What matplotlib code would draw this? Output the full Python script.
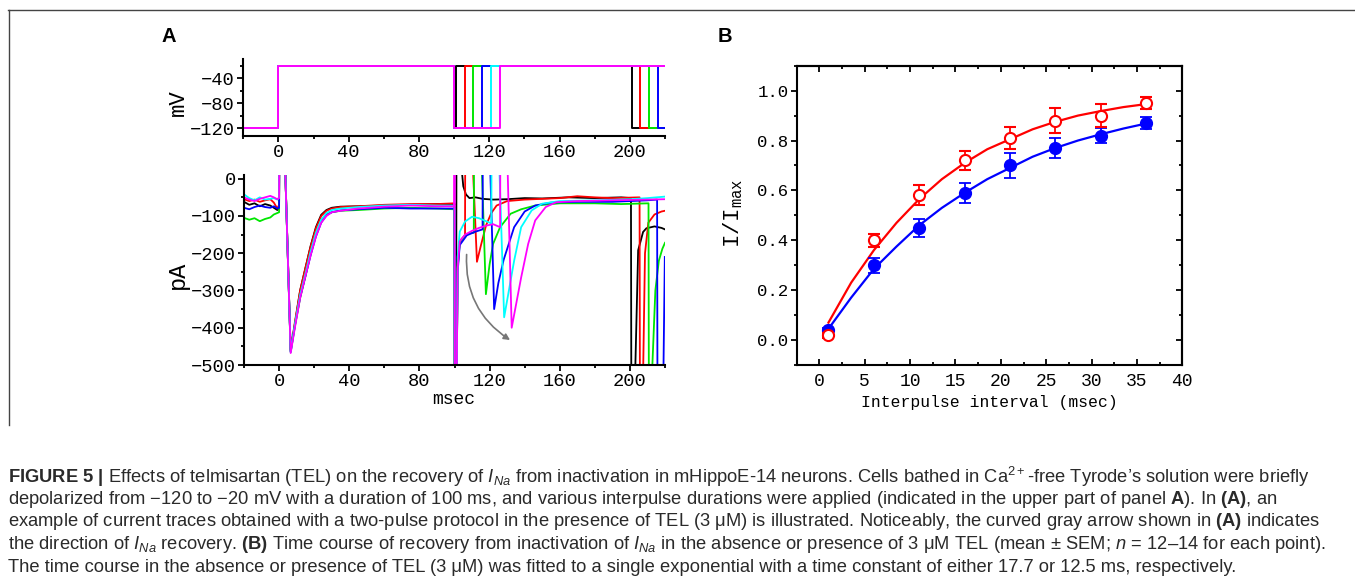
import matplotlib
matplotlib.use("Agg")
import matplotlib.pyplot as plt
from matplotlib import font_manager
from matplotlib.lines import Line2D
from matplotlib.patches import FancyArrowPatch
from matplotlib.ticker import MultipleLocator

# ---- panel A: voltage protocol ----
v_hold = -120
v_test = -20
interpulse_ms = [1, 6, 11, 16, 21, 26]
trace_names = ["black", "red", "green", "blue", "cyan", "magenta"]

# ---- panel A: current traces, (msec, pA) ----
black_pts = [(-20, -62), (-17, -70), (-14, -66), (-11, -74), (-8, -68), (-5, -72), (-3, -78), (-1, -84), (0, -80),
             (0.1, 40), (3.4, 40), (6.6, -460), (9, -390), (12, -300), (15, -240), (18, -180), (21, -130),
             (24, -97), (27, -84), (30, -78), (35, -75), (45, -74), (60, -72), (75, -70), (90, -68), (100, -68),
             (100.1, -560), (100.9, -560), (101.1, 40), (103.8, 40), (105, -20), (106.5, -42), (108.5, -52),
             (112, -50), (116, -54), (122, -56), (130, -55), (140, -52), (150, -53), (165, -50), (180, -52),
             (195, -50), (200.6, -52), (200.8, -560), (202.8, -560), (204.7, -192), (207.5, -143),
             (209.4, -133), (214, -128), (218, -132), (220, -136)]
red_pts = [(-20, -55), (-17, -60), (-14, -56), (-11, -62), (-8, -58), (-5, -55), (-3, -64), (-1, -80), (0, -70),
           (0.1, 40), (3.4, 40), (6.6, -462), (9, -385), (12, -300), (15, -240), (18, -182), (21, -133),
           (24, -100), (27, -86), (30, -80), (35, -76), (45, -74), (60, -70), (75, -68), (90, -68), (100, -66),
           (100.1, -560), (101.2, -560), (101.8, -230), (102.8, -178), (104, -162), (106, -152), (106.1, 40),
           (110.4, 40), (112.8, -223), (115, -180), (118, -125), (121, -92), (124, -72), (130, -60), (140, -56),
           (150, -54), (160, -52), (170, -47), (180, -50), (190, -52), (205.5, -50), (205.7, -560),
           (207.4, -560), (208.6, -200), (210.5, -118), (214, -96), (218, -88), (220, -86)]
green_pts = [(-20, -105), (-17, -110), (-14, -106), (-11, -114), (-8, -108), (-5, -104), (-3, -96), (-1, -92),
             (0, -90), (0.1, 40), (3.4, 40), (6.6, -465), (9, -395), (12, -320), (15, -262), (18, -200),
             (21, -148), (24, -112), (27, -96), (30, -90), (35, -86), (45, -84), (60, -80), (75, -78), (90, -80),
             (100, -82), (100.1, -560), (101.2, -560), (101.8, -240), (103, -172), (106, -152), (109, -146),
             (111, -145), (111.1, 40), (115.5, 40), (117.9, -310), (120, -230), (122, -175), (126, -130),
             (132, -94), (138, -82), (146, -72), (160, -66), (180, -66), (195, -68), (210.6, -66),
             (210.8, -560), (212.3, -560), (214.5, -300), (216.5, -220), (218.5, -188), (220, -172)]
blue_pts = [(-20, -78), (-17, -82), (-14, -76), (-11, -72), (-8, -76), (-5, -78), (-3, -74), (-1, -80), (0, -78),
            (0.1, 40), (3.4, 40), (6.6, -465), (9, -395), (12, -318), (15, -262), (18, -205), (21, -155),
            (24, -118), (27, -98), (30, -90), (35, -85), (45, -82), (60, -78), (75, -80), (90, -80), (100, -80),
            (100.1, -560), (101.2, -560), (101.8, -250), (103, -178), (107, -152), (112, -142), (116, -136),
            (116.1, 40), (120.3, 40), (122.6, -350), (125, -280), (128, -218), (134, -130), (140, -88),
            (146, -72), (155, -64), (170, -62), (190, -62), (200, -60), (210, -58), (215.5, -56),
            (215.7, -560), (219, -560), (219.9, -210)]
cyan_pts = [(-20, -42), (-17, -52), (-14, -58), (-11, -50), (-8, -56), (-5, -54), (-3, -52), (-1, -56), (0, -50),
            (0.1, 40), (3.4, 40), (6.6, -465), (9, -392), (12, -312), (15, -255), (18, -195), (21, -145),
            (24, -110), (27, -92), (30, -84), (35, -80), (45, -76), (60, -72), (75, -70), (90, -72), (100, -72),
            (100.1, -560), (101.2, -560), (101.8, -210), (103, -142), (106, -115), (110, -102), (114, -106),
            (118, -114), (121, -120), (121.1, 40), (125.5, 40), (128.3, -372), (131, -300), (134, -220),
            (138, -130), (144, -85), (150, -67), (160, -60), (180, -58), (200, -55), (210, -52), (220, -48)]
magenta_pts = [(-20, -50), (-17, -56), (-14, -60), (-11, -54), (-8, -50), (-5, -46), (-3, -50), (-1, -55),
               (0, -52), (0.1, 40), (3.4, 40), (6.6, -468), (9, -400), (12, -320), (15, -262), (18, -205),
               (21, -155), (24, -118), (27, -100), (30, -90), (35, -86), (45, -80), (60, -75), (75, -72),
               (90, -74), (99.9, -74), (100, 40), (100.2, -560), (101.2, -560), (101.8, -240), (103, -168),
               (106, -150), (110, -140), (114, -132), (118, -126), (122, -122), (126, -130), (126.1, 40),
               (130.2, 40), (132.6, -400), (135, -340), (138, -265), (142, -175), (146, -112), (152, -76),
               (158, -63), (170, -60), (190, -58), (210, -56), (220, -55)]
current_traces = [black_pts, red_pts, green_pts, blue_pts, cyan_pts, magenta_pts]

# gray arrow: start and end (msec, pA)
arrow_start = (107, -196)
arrow_end = (133, -437)

# ---- panel B ----
interval_b = [1, 6, 11, 16, 21, 26, 31, 36]
red_mean = [0.02, 0.40, 0.58, 0.72, 0.81, 0.88, 0.90, 0.95]
red_sem = [0.01, 0.025, 0.04, 0.04, 0.045, 0.05, 0.045, 0.025]
blue_mean = [0.04, 0.30, 0.45, 0.59, 0.70, 0.77, 0.82, 0.87]
blue_sem = [0.01, 0.03, 0.035, 0.04, 0.05, 0.04, 0.03, 0.025]
fit_x = [1, 3.5, 6, 8.5, 11, 13.5, 16, 18.5, 21, 23.5, 26, 28.5, 31, 33.5, 36]
red_fit = [0.07, 0.23, 0.36, 0.47, 0.565, 0.645, 0.71, 0.765, 0.805, 0.845, 0.875, 0.90, 0.918, 0.934, 0.946]
blue_fit = [0.045, 0.17, 0.285, 0.375, 0.46, 0.53, 0.59, 0.645, 0.69, 0.735, 0.77, 0.80, 0.825, 0.848, 0.868]

caption_lines = [
    r"$\mathbf{FIGURE\ 5\ |}$ Effects of telmisartan (TEL) on the recovery of $I_{Na}$ from inactivation in mHippoE-14 neurons. Cells bathed in Ca$^{\mathsf{2+}}$-free Tyrode’s solution were briefly",
    r"depolarized from −120 to −20 mV with a duration of 100 ms, and various interpulse durations were applied (indicated in the upper part of panel $\mathbf{A}$). In $\mathbf{(A)}$, an",
    r"example of current traces obtained with a two-pulse protocol in the presence of TEL (3 μM) is illustrated. Noticeably, the curved gray arrow shown in $\mathbf{(A)}$ indicates",
    r"the direction of $I_{Na}$ recovery. $\mathbf{(B)}$ Time course of recovery from inactivation of $I_{Na}$ in the absence or presence of 3 μM TEL (mean ± SEM; $n$ = 12–14 for each point).",
    r"The time course in the absence or presence of TEL (3 μM) was fitted to a single exponential with a time constant of either 17.7 or 12.5 ms, respectively.",
]

W, H = 1355, 583
COLORS = {"black": "black", "red": "#ff0000", "green": "#00e600", "blue": "#0000ff",
          "cyan": "#00ffff", "magenta": "#ff00ff"}
MONO = "Liberation Mono"

# caption font: a narrow sans if there is one
_names = {f.name for f in font_manager.fontManager.ttflist}
CAP = "Liberation Sans Narrow" if "Liberation Sans Narrow" in _names else "Liberation Sans"

plt.rcParams["font.family"] = [MONO, "DejaVu Sans"]
plt.rcParams["mathtext.fontset"] = "custom"
plt.rcParams["mathtext.rm"] = MONO
plt.rcParams["mathtext.it"] = CAP + ":italic"
plt.rcParams["mathtext.bf"] = CAP + ":bold"
plt.rcParams["mathtext.sf"] = CAP


def box(left, top, right, bottom):
    """pixel box -> figure fraction [l, b, w, h]"""
    return [left / W, 1 - bottom / H, (right - left) / W, (bottom - top) / H]


def fx(x):
    return x / W


def fy(y):
    return 1 - y / H


fig = plt.figure(figsize=(W / 100, H / 100), dpi=100)

# frame lines
fig.add_artist(Line2D([fx(8), 1], [fy(9.5), fy(9.5)], transform=fig.transFigure, color="#444444", lw=1))
fig.add_artist(Line2D([fx(8.5), fx(8.5)], [fy(9.5), fy(425)], transform=fig.transFigure, color="#444444", lw=1))


def style_a(ax):
    for s in ("top", "right"):
        ax.spines[s].set_visible(False)
    for s in ("left", "bottom"):
        ax.spines[s].set_linewidth(1.5)
    ax.tick_params(which="major", direction="out", length=4, width=1.3, labelsize=13.5, pad=2)
    ax.tick_params(which="minor", direction="out", length=2.5, width=1.3)
    ax.xaxis.set_major_locator(MultipleLocator(40))
    ax.xaxis.set_minor_locator(MultipleLocator(20))
    ax.set_xlim(-20, 220)
    ax.patch.set_alpha(0)


# top: voltage protocol
ax_v = fig.add_axes(box(243.3, 59.3, 665, 136))
for name, d in zip(trace_names, interpulse_ms):
    t = [-20, 0, 0, 100, 100, 100 + d, 100 + d, 200 + d, 200 + d, 240]
    v = [v_hold, v_hold, v_test, v_test, v_hold, v_hold, v_test, v_test, v_hold, v_hold]
    ax_v.plot(t, v, color=COLORS[name], lw=1.4)
style_a(ax_v)
ax_v.set_ylim(-132, -10)
ax_v.set_yticks([-40, -80, -120])
ax_v.yaxis.set_minor_locator(MultipleLocator(20))

# bottom: currents
ax_i = fig.add_axes(box(244, 175, 665, 365))
for name, pts in zip(trace_names, current_traces):
    ax_i.plot([p[0] for p in pts], [p[1] for p in pts], color=COLORS[name], lw=1.3)
style_a(ax_i)
ax_i.set_ylim(-500, 10)
ax_i.set_yticks([0, -100, -200, -300, -400, -500])
ax_i.yaxis.set_minor_locator(MultipleLocator(50))
ax_i.add_patch(FancyArrowPatch(arrow_start, arrow_end, connectionstyle="arc3,rad=0.3",
                               arrowstyle="-|>", mutation_scale=9, color="#777777", lw=1.2))

fig.text(fx(178), fy(103), "mV", rotation=90, ha="center", va="center", fontsize=16)
fig.text(fx(177), fy(275), "pA", rotation=90, ha="center", va="center", fontsize=17)
fig.text(fx(454), fy(400), "msec", ha="center", va="center", fontsize=13)

# panel B
ax_b = fig.add_axes(box(796.7, 65.7, 1182.3, 365))
ax_b.plot(fit_x, red_fit, color=COLORS["red"], lw=1.6, zorder=2)
ax_b.plot(fit_x, blue_fit, color=COLORS["blue"], lw=1.6, zorder=2)
ax_b.errorbar(interval_b, blue_mean, yerr=blue_sem, fmt="o", color=COLORS["blue"], ms=8.5,
              capsize=4, elinewidth=1.3, capthick=1.3, zorder=3)
ax_b.errorbar(interval_b, red_mean, yerr=red_sem, fmt="o", color=COLORS["red"], mfc="white", ms=8,
              mew=1.5, capsize=4, elinewidth=1.3, capthick=1.3, zorder=4)
ax_b.set_xlim(-2.5, 40)
ax_b.set_ylim(-0.1, 1.1)
ax_b.xaxis.set_major_locator(MultipleLocator(5))
ax_b.xaxis.set_minor_locator(MultipleLocator(2.5))
ax_b.yaxis.set_major_locator(MultipleLocator(0.2))
ax_b.yaxis.set_minor_locator(MultipleLocator(0.1))
ax_b.yaxis.set_major_formatter(lambda v, p: f"{v:.1f}")
for s in ax_b.spines.values():
    s.set_linewidth(1.5)
ax_b.tick_params(axis="y", which="major", direction="out", length=4, width=1.3, labelsize=12.5, pad=2)
ax_b.tick_params(axis="y", which="minor", direction="out", length=2.5, width=1.3)
ax_b.tick_params(axis="x", which="major", direction="in", length=4, width=1.3, labelsize=13, pad=6)
ax_b.tick_params(axis="x", which="minor", direction="in", length=2.5, width=1.3)
sec_r = ax_b.secondary_yaxis("right")
sec_r.yaxis.set_major_locator(MultipleLocator(0.2))
sec_r.yaxis.set_minor_locator(MultipleLocator(0.1))
sec_r.tick_params(which="major", direction="in", length=4, width=1.3, labelright=False)
sec_r.tick_params(which="minor", direction="in", length=2.5, width=1.3)
sec_r.spines["right"].set_linewidth(1.5)
sec_t = ax_b.secondary_xaxis("top")
sec_t.xaxis.set_major_locator(MultipleLocator(5))
sec_t.xaxis.set_minor_locator(MultipleLocator(2.5))
sec_t.tick_params(which="major", direction="in", length=4, width=1.3, labeltop=False)
sec_t.tick_params(which="minor", direction="in", length=2.5, width=1.3)
sec_t.spines["top"].set_linewidth(1.5)

fig.text(fx(989), fy(403), "Interpulse interval (msec)", ha="center", va="center", fontsize=11.8)
fig.text(fx(733), fy(213), r"$\mathrm{I/I_{max}}$", rotation=90, ha="center", va="center", fontsize=16)

# panel letters
fig.text(fx(169), fy(37), "A", ha="center", va="center", fontsize=14.5, fontweight="bold",
         family="Liberation Sans")
fig.text(fx(725), fy(37), "B", ha="center", va="center", fontsize=14.5, fontweight="bold",
         family="Liberation Sans")

# caption, scaled so that its longest line fills the measured width
cap_size = 11.0
cap_y = [477, 499.5, 522, 544.5, 567]
texts = [fig.text(fx(8), fy(y), line, ha="left", va="center", fontsize=cap_size,
                  family=[CAP, "Liberation Sans"], color="#2a2a2a") for line, y in zip(caption_lines, cap_y)]
renderer = fig.canvas.get_renderer()
widest = texts[3].get_window_extent(renderer).width
scale = (1324 - 8) / widest
for t in texts:
    t.set_fontsize(cap_size * scale)

fig.savefig("out.png", dpi=100)
